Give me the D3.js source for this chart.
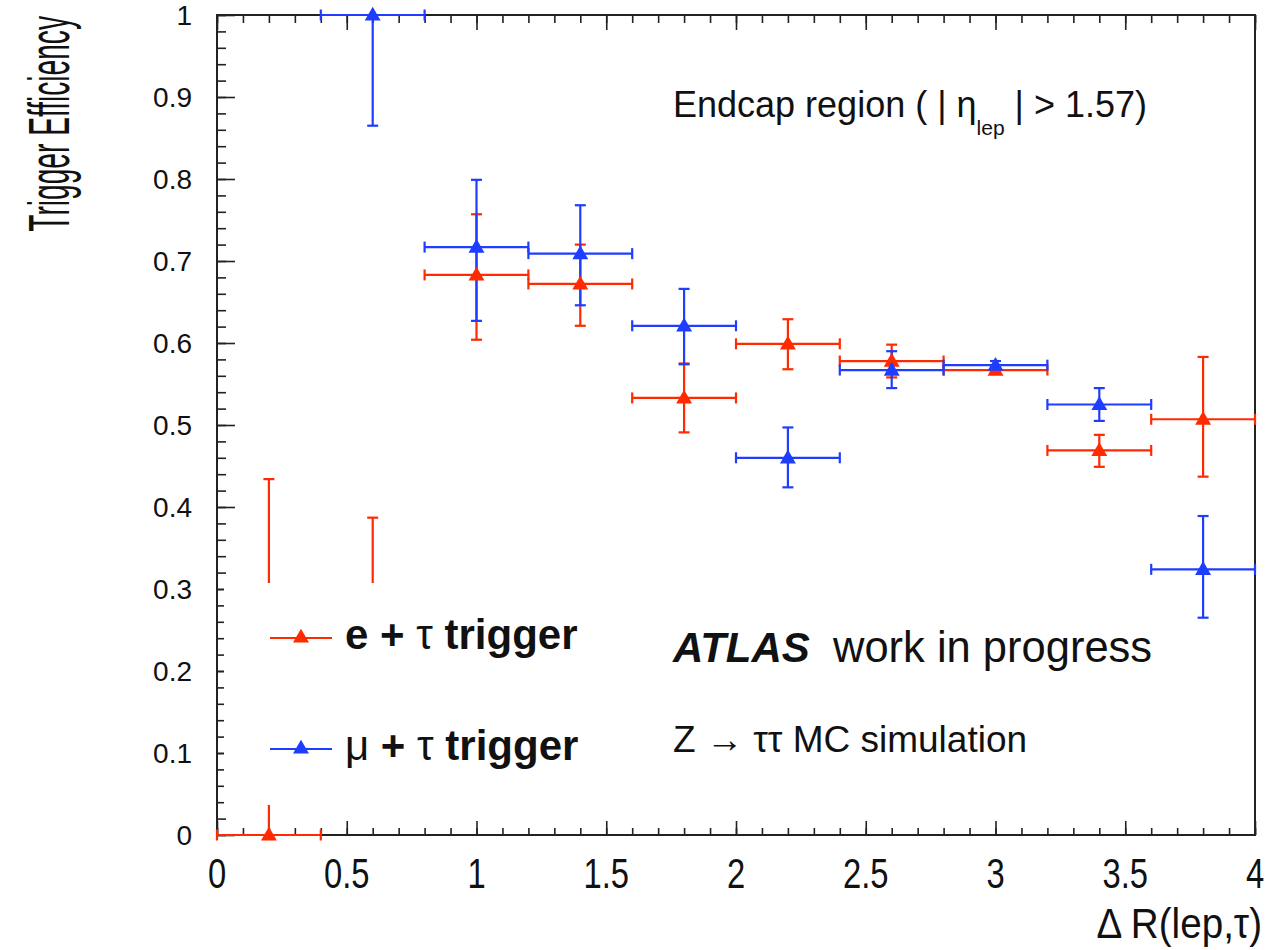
<!DOCTYPE html>
<html>
<head>
<meta charset="utf-8">
<script src="https://cdn.jsdelivr.net/npm/d3@7"></script>
<style>
  body { margin: 0; background: #fff; }
  text { font-family: "Liberation Sans", Arial, Helvetica, sans-serif; fill: #111; }
</style>
</head>
<body>
<svg id="chart" width="1284" height="950"></svg>
<script>
// bins of dR(lep,tau), width 0.4
const binCenters = [0.2, 0.6, 1.0, 1.4, 1.8, 2.2, 2.6, 3.0, 3.4, 3.8]
const binHalf = 0.2

// e + tau trigger
const eTauEff = [0, 0.25, 0.683, 0.672, 0.533, 0.599, 0.578, 0.567, 0.469, 0.507]
const eTauHi  = [0.434, 0.387, 0.757, 0.720, 0.575, 0.629, 0.598, 0.571, 0.488, 0.583]
const eTauLo  = [0, 0.10, 0.604, 0.621, 0.491, 0.568, 0.558, 0.563, 0.449, 0.437]

// mu + tau trigger
const muTauEff = [null, 1.0, 0.717, 0.709, 0.621, 0.460, 0.567, 0.573, 0.525, 0.324]
const muTauHi  = [null, 1.0, 0.799, 0.768, 0.666, 0.497, 0.590, 0.578, 0.545, 0.389]
const muTauLo  = [null, 0.865, 0.627, 0.646, 0.574, 0.424, 0.545, 0.568, 0.505, 0.265]

const xMajor = d3.range(0, 9).map(i => i / 2)
const xMinor = d3.range(0, 41).map(i => i / 10)
const yMajor = d3.range(0, 11).map(i => i / 10)
const yMinor = d3.range(0, 51).map(i => i / 50)

const red = "#ff2a00", blue = "#1f3dff"

let svg = d3.select("#chart")
let x = d3.scaleLinear().domain([0, 4]).range([217, 1255])
let y = d3.scaleLinear().domain([0, 1]).range([835, 15])

// ticks
function tickGroup(axis, transform) {
    let g = svg.append("g").attr("transform", transform).call(axis)
    g.select(".domain").remove()
    g.selectAll("line").attr("stroke", "#222").attr("stroke-width", 1.6)
    return g
}
tickGroup(d3.axisBottom(x).tickValues(xMinor).tickSize(-7).tickFormat(""), "translate(0,835)")
tickGroup(d3.axisBottom(x).tickValues(xMajor).tickSize(-14).tickFormat(""), "translate(0,835)")
tickGroup(d3.axisTop(x).tickValues(xMinor).tickSize(-8).tickFormat(""), "translate(0,15)")
tickGroup(d3.axisTop(x).tickValues(xMajor).tickSize(-15).tickFormat(""), "translate(0,15)")
tickGroup(d3.axisLeft(y).tickValues(yMinor).tickSize(-9).tickFormat(""), "translate(217,0)")
tickGroup(d3.axisLeft(y).tickValues(yMajor).tickSize(-18).tickFormat(""), "translate(217,0)")

// frame
svg.append("rect")
    .attr("x", x(0)).attr("y", y(1))
    .attr("width", x(4) - x(0)).attr("height", y(0) - y(1))
    .attr("fill", "none").attr("stroke", "#222").attr("stroke-width", 2)

// tick labels
svg.append("g").selectAll("text")
    .data(yMajor).enter().append("text")
    .attr("x", 192).attr("y", d => y(d) + 10)
    .attr("text-anchor", "end")
    .attr("font-size", 28)
    .text(d => d3.format("")(d))

svg.append("g").selectAll("text")
    .data(xMajor).enter().append("text")
    .attr("transform", d => `translate(${x(d)},888) scale(0.78,1)`)
    .attr("text-anchor", "middle")
    .attr("font-size", 42)
    .text(d => d3.format("")(d))

// axis titles
svg.append("text")
    .attr("transform", "translate(1262,938) scale(0.92,1)")
    .attr("text-anchor", "end")
    .attr("font-size", 42)
    .text("\u0394 R(lep,\u03c4)")

svg.append("text")
    .attr("transform", "translate(69,16) rotate(-90) scale(0.485,1)")
    .attr("text-anchor", "end")
    .attr("font-size", 58)
    .text("Trigger Efficiency")

// data
function drawBars(eff, hi, lo, color) {
    let g = svg.append("g").attr("stroke", color).attr("stroke-width", 2.2).attr("fill", "none")
    binCenters.forEach((c, i) => {
        if (eff[i] === null) return
        let cx = x(c), cy = y(eff[i]), cap = 5.5
        g.append("line").attr("x1", x(c - binHalf)).attr("x2", x(c + binHalf)).attr("y1", cy).attr("y2", cy)
        g.append("line").attr("x1", x(c - binHalf)).attr("x2", x(c - binHalf)).attr("y1", cy - cap).attr("y2", cy + cap)
        g.append("line").attr("x1", x(c + binHalf)).attr("x2", x(c + binHalf)).attr("y1", cy - cap).attr("y2", cy + cap)
        g.append("line").attr("x1", cx).attr("x2", cx).attr("y1", y(hi[i])).attr("y2", y(lo[i]))
        if (hi[i] > eff[i])
            g.append("line").attr("x1", cx - cap).attr("x2", cx + cap).attr("y1", y(hi[i])).attr("y2", y(hi[i]))
        if (lo[i] < eff[i])
            g.append("line").attr("x1", cx - cap).attr("x2", cx + cap).attr("y1", y(lo[i])).attr("y2", y(lo[i]))
    })
}
function drawMarkers(eff, color) {
    svg.append("g").selectAll("path")
        .data(binCenters.map((c, i) => [c, eff[i]]).filter(d => d[1] !== null))
        .enter().append("path")
        .attr("d", d3.symbol(d3.symbolTriangle, 110))
        .attr("transform", d => `translate(${x(d[0])},${y(d[1]) + 1})`)
        .attr("fill", color)
}
drawBars(eTauEff, eTauHi, eTauLo, red)
drawBars(muTauEff, muTauHi, muTauLo, blue)
drawMarkers(eTauEff, red)
drawMarkers(muTauEff, blue)

// legend (white box hides what lies behind)
svg.append("rect").attr("x", 224).attr("y", 583).attr("width", 420).attr("height", 222).attr("fill", "#fff")
let legendItems = [
    { color: red, y: 638, parts: [["e", "bold"], [" + ", "bold"], ["\u03c4", "normal"], [" trigger", "bold"]] },
    { color: blue, y: 749, parts: [["\u03bc", "normal"], [" + ", "bold"], ["\u03c4", "normal"], [" trigger", "bold"]] }
]
legendItems.forEach(item => {
    svg.append("line").attr("x1", 270).attr("x2", 332).attr("y1", item.y).attr("y2", item.y)
        .attr("stroke", item.color).attr("stroke-width", 2.2)
    svg.append("path").attr("d", d3.symbol(d3.symbolTriangle, 110))
        .attr("transform", `translate(301,${item.y})`).attr("fill", item.color)
    let t = svg.append("text").attr("x", 345).attr("y", item.y + 11).attr("font-size", 42)
    item.parts.forEach(p => t.append("tspan").attr("font-weight", p[1]).text(p[0]))
})

// annotations
let endcap = svg.append("text").attr("x", 673).attr("y", 117).attr("font-size", 36)
endcap.append("tspan").text("Endcap region ( | \u03b7")
endcap.append("tspan").attr("font-size", 21).attr("dy", 18).text("lep")
endcap.append("tspan").attr("dy", -18).text(" | > 1.57)")

let atlas = svg.append("text").attr("x", 673).attr("y", 662).attr("font-size", 42)
atlas.append("tspan").attr("font-weight", "bold").attr("font-style", "italic").text("ATLAS")
atlas.append("tspan").attr("x", 833).attr("font-size", 43.5).text("work in progress")

svg.append("text").attr("x", 673).attr("y", 752).attr("font-size", 37)
    .text("Z \u2192 \u03c4\u03c4 MC simulation")
</script>
</body>
</html>
